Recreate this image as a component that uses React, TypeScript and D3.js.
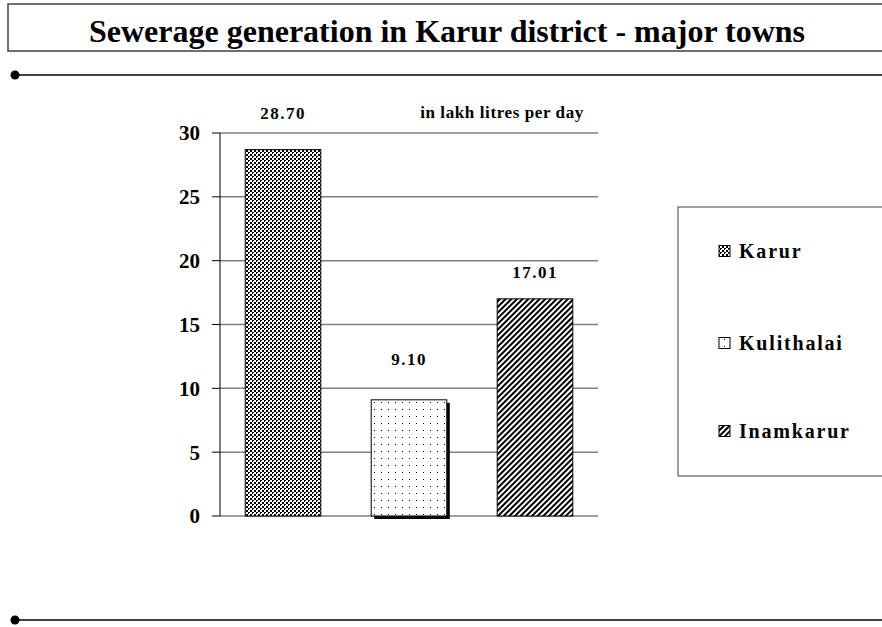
import React from 'react';
import * as d3 from 'd3';

const towns = ['Karur', 'Kulithalai', 'Inamkarur'];
const sewerage = [28.7, 9.1, 17.01];
const valueLabels = ['28.70', '9.10', '17.01'];
const yTicks = [0, 5, 10, 15, 20, 25, 30];
const patterns = ['pKarur', 'pKuli', 'pInam'];

const W = 882;
const H = 627;
const FONT = 'Liberation Serif, Times New Roman, serif';

export default function App() {
  const x = d3.scaleBand().domain(towns).range([220, 598]).paddingInner(0.4).paddingOuter(0.2);
  const y = d3.scaleLinear().domain([0, 30]).range([516, 133]);
  // label offsets above bar tops, as placed in the original
  const labelDy = [-31, -35, -21];
  const legendY = [251, 343, 431];

  return (
    <svg width={W} height={H} style={{ position: 'absolute', left: 0, top: 0, background: '#fff' }} fontFamily={FONT}>
      <defs>
        <pattern id="pKarur" width={4} height={4} patternUnits="userSpaceOnUse">
          <rect width={4} height={4} fill="#fff" />
          <rect x={0} y={0} width={2} height={2} fill="#000" />
          <rect x={2} y={2} width={2} height={2} fill="#000" />
          <rect x={1} y={0} width={1} height={1} fill="#000" />
          <rect x={1} y={1} width={1} height={1} fill="#fff" />
        </pattern>
        <pattern id="pKuli" width={7} height={7} patternUnits="userSpaceOnUse">
          <rect width={7} height={7} fill="#fff" />
          <rect x={3} y={3} width={1} height={1} fill="#000" />
        </pattern>
        <pattern id="pInam" width={4} height={4} patternUnits="userSpaceOnUse" patternTransform="rotate(45)">
          <rect width={4} height={4} fill="#fff" />
          <rect x={0} y={0} width={2} height={4} fill="#000" />
        </pattern>
      </defs>

      {/* title */}
      <rect x={8} y={4} width={890} height={47} fill="#fff" stroke="#404040" strokeWidth={1.5} />
      <text x={447} y={42} textAnchor="middle" fontSize={32} fontWeight="bold">
        Sewerage generation in Karur district - major towns
      </text>
      <line x1={15} x2={W} y1={75} y2={75} stroke="#000" strokeWidth={1.5} />
      <circle cx={15} cy={75} r={4.5} fill="#000" />
      <line x1={15} x2={W} y1={620} y2={620} stroke="#000" strokeWidth={1.5} />
      <circle cx={15} cy={620} r={4.5} fill="#000" />

      {/* grid + axis */}
      {yTicks.map((t) => (
        <g key={t}>
          <line x1={220} x2={598} y1={y(t)} y2={y(t)} stroke="#808080" strokeWidth={1.5} />
          <line x1={212} x2={220} y1={y(t)} y2={y(t)} stroke="#000" strokeWidth={1} />
          <text x={200} y={y(t)} dy="0.35em" textAnchor="end" fontSize={21} fontWeight="bold">{t}</text>
        </g>
      ))}
      <line x1={220} x2={220} y1={y(30)} y2={y(0)} stroke="#000" strokeWidth={1} />

      {/* bars */}
      {towns.map((t, i) => (
        <g key={t}>
          {i === 1 && (
            <rect x={x(t)! + 3} y={y(sewerage[i]) + 3} width={x.bandwidth()} height={y(0) - y(sewerage[i])} fill="#000" />
          )}
          <rect x={x(t)!} y={y(sewerage[i])} width={x.bandwidth()} height={y(0) - y(sewerage[i])}
            fill={`url(#${patterns[i]})`} stroke="#000" strokeWidth={1} />
          <text x={x(t)! + x.bandwidth() / 2} y={y(sewerage[i]) + labelDy[i]} textAnchor="middle"
            fontSize={17} fontWeight="bold" letterSpacing={1.5}>{valueLabels[i]}</text>
        </g>
      ))}
      <text x={502} y={118} textAnchor="middle" fontSize={17} fontWeight="bold" letterSpacing={0.6}>in lakh litres per day</text>

      {/* legend */}
      <rect x={678} y={207} width={220} height={269} fill="#fff" stroke="#404040" strokeWidth={1} />
      {towns.map((t, i) => (
        <g key={t}>
          <rect x={719} y={legendY[i] - 5.5} width={11} height={11} fill={`url(#${patterns[i]})`} stroke="#000" strokeWidth={1} />
          <text x={739} y={legendY[i]} dy="0.35em" fontSize={20} fontWeight="bold" letterSpacing={1.8}>{t}</text>
        </g>
      ))}
    </svg>
  );
}
